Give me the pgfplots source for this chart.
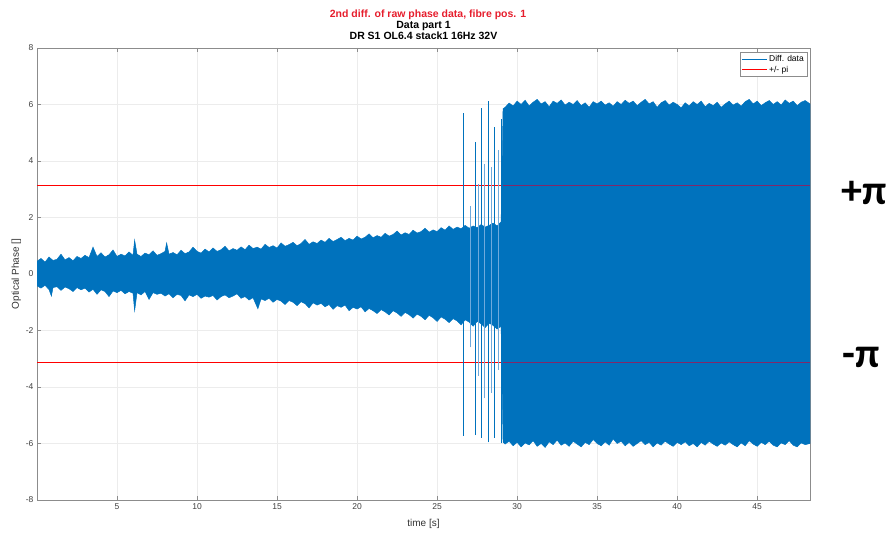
\documentclass[border=0pt]{standalone}
\usepackage{pgfplots}
\usepackage{pgfplotstable}
\pgfplotsset{compat=1.18}
\usepackage{fontspec}
\setmainfont{Liberation Sans}
\newfontfamily\annfont{Carlito}

\definecolor{mblue}{RGB}{0,114,189}
\definecolor{mred}{RGB}{230,30,45}
\definecolor{pired}{RGB}{255,0,0}
\definecolor{pidark}{RGB}{130,40,105}
\definecolor{axgray}{RGB}{140,140,140}
\definecolor{weakblue}{RGB}{110,170,220}

% upper envelope of the differentiated phase signal
\pgfplotstableread{
x y
0 0.45
0.25 0.55
0.5 0.42
0.75 0.60
1.0 0.48
1.25 0.52
1.5 0.70
1.75 0.50
2.0 0.58
2.25 0.47
2.5 0.62
2.75 0.55
3.0 0.66
3.25 0.58
3.5 0.95
3.75 0.62
4.0 0.75
4.25 0.60
4.5 0.68
4.75 0.85
5.0 0.62
5.25 0.70
5.5 0.64
5.75 0.78
6.0 0.66
6.1 1.20
6.25 0.70
6.5 0.62
6.75 0.74
7.0 0.68
7.25 0.82
7.5 0.66
7.75 0.72
8.0 0.80
8.1 1.10
8.25 0.70
8.5 0.76
8.75 0.68
9.0 0.84
9.25 0.72
9.5 0.78
9.75 0.95
10.0 0.80
10.25 0.74
10.5 0.88
10.75 0.78
11.0 0.92
11.25 0.80
11.5 0.86
11.75 0.98
12.0 0.82
12.25 0.90
12.5 0.84
12.75 0.96
13.0 0.86
13.25 1.02
13.5 0.90
13.75 0.95
14.0 0.88
14.25 1.05
14.5 0.94
14.75 1.00
15.0 0.92
15.25 1.10
15.5 0.98
15.75 1.04
16.0 1.12
16.25 1.00
16.5 1.08
16.75 1.22
17.0 1.05
17.25 1.14
17.5 1.08
17.75 1.20
18.0 1.12
18.25 1.26
18.5 1.15
18.75 1.22
19.0 1.30
19.25 1.18
19.5 1.26
19.75 1.20
20.0 1.34
20.25 1.24
20.5 1.30
20.75 1.42
21.0 1.28
21.25 1.36
21.5 1.30
21.75 1.44
22.0 1.34
22.25 1.40
22.5 1.52
22.75 1.38
23.0 1.46
23.25 1.40
23.5 1.55
23.75 1.45
24.0 1.50
24.25 1.62
24.5 1.48
24.75 1.56
25.0 1.50
25.25 1.64
25.5 1.55
25.75 1.70
26.0 1.58
26.25 1.66
26.5 1.60
26.75 1.72
27.0 1.62
27.25 1.70
27.5 1.64
27.75 1.75
28.0 1.66
28.25 1.72
28.5 1.80
28.75 1.70
29.0 1.85
29.12 5.85
29.25 5.90
29.5 6.05
29.75 5.95
30.0 6.12
30.25 6.00
30.5 6.15
30.75 5.95
31.0 6.08
31.25 6.18
31.5 6.02
31.75 6.10
32.0 5.92
32.25 6.12
32.5 6.04
32.75 6.16
33.0 5.98
33.25 6.08
33.5 6.00
33.75 6.14
34.0 5.96
34.25 6.06
34.5 5.90
34.75 6.10
35.0 6.02
35.25 6.12
35.5 5.98
35.75 6.06
36.0 5.94
36.25 6.10
36.5 6.00
36.75 6.15
37.0 6.04
37.25 6.12
37.5 5.96
37.75 6.08
38.0 6.18
38.25 6.02
38.5 6.10
38.75 5.90
39.0 6.06
39.25 6.14
39.5 5.98
39.75 6.08
40.0 6.00
40.25 5.88
40.5 6.06
40.75 5.95
41.0 6.10
41.25 6.00
41.5 6.12
41.75 5.92
42.0 6.04
42.25 5.96
42.5 6.08
42.75 5.90
43.0 6.02
43.25 6.12
43.5 5.98
43.75 6.06
44.0 5.94
44.25 6.10
44.5 6.18
44.75 6.02
45.0 6.12
45.25 5.96
45.5 6.06
45.75 6.14
46.0 6.00
46.25 6.10
46.5 5.98
46.75 6.16
47.0 6.04
47.25 6.12
47.5 5.96
47.75 6.08
48.0 6.14
48.3 6.02
}\envband

% lower envelope of the differentiated phase signal
\pgfplotstableread{
x y
0 -0.42
0.25 -0.50
0.5 -0.40
0.75 -0.55
0.9 -0.78
1.0 -0.48
1.25 -0.45
1.5 -0.58
1.75 -0.46
2.0 -0.52
2.25 -0.62
2.5 -0.48
2.75 -0.56
3.0 -0.50
3.25 -0.64
3.5 -0.54
3.75 -0.72
4.0 -0.56
4.25 -0.62
4.5 -0.80
4.75 -0.60
5.0 -0.66
5.25 -0.58
5.5 -0.70
5.75 -0.62
6.0 -0.68
6.1 -1.30
6.25 -0.66
6.5 -0.74
6.75 -0.62
7.0 -0.90
7.25 -0.66
7.5 -0.72
7.75 -0.68
8.0 -0.78
8.25 -0.70
8.5 -0.84
8.75 -0.72
9.0 -0.76
9.25 -0.95
9.5 -0.74
9.75 -0.80
10.0 -0.72
10.25 -0.86
10.5 -0.78
10.75 -0.82
11.0 -0.76
11.25 -0.92
11.5 -0.80
11.75 -0.74
12.0 -0.84
12.25 -0.78
12.5 -0.70
12.75 -0.86
13.0 -0.80
13.25 -0.92
13.5 -0.84
13.8 -1.23
14.0 -0.88
14.25 -0.94
14.5 -0.86
14.75 -1.00
15.0 -0.90
15.25 -0.96
15.5 -1.08
15.75 -0.94
16.0 -1.00
16.25 -1.12
16.5 -0.98
16.75 -1.05
17.0 -1.20
17.25 -1.02
17.5 -1.10
17.75 -1.04
18.0 -1.16
18.25 -1.08
18.5 -1.25
18.75 -1.12
19.0 -1.18
19.25 -1.10
19.5 -1.30
19.75 -1.18
20.0 -1.24
20.25 -1.16
20.5 -1.34
20.75 -1.22
21.0 -1.30
21.25 -1.40
21.5 -1.26
21.75 -1.34
22.0 -1.45
22.25 -1.30
22.5 -1.38
22.75 -1.50
23.0 -1.36
23.25 -1.44
23.5 -1.56
23.75 -1.42
24.0 -1.50
24.25 -1.62
24.5 -1.46
24.75 -1.55
25.0 -1.68
25.25 -1.52
25.5 -1.60
25.75 -1.72
26.0 -1.58
26.25 -1.66
26.5 -1.80
26.75 -1.62
27.0 -1.70
27.25 -1.85
27.5 -1.68
27.75 -1.76
28.0 -1.90
28.25 -1.74
28.5 -1.82
28.75 -1.95
29.0 -1.85
29.12 -5.95
29.25 -6.02
29.5 -5.92
29.75 -6.08
30.0 -5.96
30.25 -6.12
30.5 -5.98
30.75 -6.05
31.0 -5.90
31.25 -6.10
31.5 -6.00
31.75 -6.14
32.0 -5.94
32.25 -6.04
32.5 -5.88
32.75 -6.06
33.0 -5.98
33.25 -6.10
33.5 -5.92
33.75 -6.02
34.0 -6.12
34.25 -5.96
34.5 -6.04
34.75 -5.86
35.0 -6.00
35.25 -6.08
35.5 -5.94
35.75 -6.06
36.0 -5.84
36.25 -6.00
36.5 -5.92
36.75 -6.08
37.0 -5.96
37.25 -6.10
37.5 -6.00
37.75 -5.90
38.0 -6.04
38.25 -5.96
38.5 -6.12
38.75 -5.98
39.0 -6.06
39.25 -5.92
39.5 -6.02
39.75 -6.10
40.0 -5.96
40.25 -6.04
40.5 -5.94
40.75 -6.08
41.0 -6.00
41.25 -6.12
41.5 -5.96
41.75 -6.06
42.0 -5.92
42.25 -6.02
42.5 -6.10
42.75 -5.98
43.0 -6.06
43.25 -5.94
43.5 -6.04
43.75 -6.12
44.0 -5.98
44.25 -6.08
44.5 -5.90
44.75 -6.02
45.0 -6.10
45.25 -5.96
45.5 -6.04
45.75 -5.92
46.0 -6.06
46.25 -6.12
46.5 -5.98
46.75 -6.04
47.0 -5.90
47.25 -6.06
47.5 -6.12
47.75 -5.98
48.0 -6.04
48.3 -6.00
}\envlo

% walk the lower envelope backwards and append it, giving one closed band
\pgfplotstablesort[sort key=x, sort cmp=float >]{\envlorev}{\envlo}
\pgfplotstablevertcat{\envband}{\envlorev}

% isolated phase jumps before the signal breaks up
\pgfplotstableread{
x y
26.65 -5.72
26.65 5.70
26.65 nan
27.40 -5.70
27.40 4.67
27.40 nan
27.75 -5.80
27.75 5.86
27.75 nan
28.20 -5.96
28.20 6.14
28.20 nan
28.60 -5.80
28.60 5.20
28.60 nan
29.00 -6.00
29.00 5.50
}\jumpdata

% weaker excursions in the same interval
\pgfplotstableread{
x y
27.05 -2.6
27.05 2.4
27.05 nan
27.60 -3.6
27.60 3.2
27.60 nan
27.95 -4.4
27.95 3.9
27.95 nan
28.40 -4.2
28.40 3.8
28.40 nan
28.85 -3.4
28.85 4.4
}\weakdata

\begin{document}
\begin{tikzpicture}
\begin{axis}[
  at={(37pt,30pt)}, anchor=south west,
  scale only axis, width=773pt, height=452pt,
  xmin=0, xmax=48.3, ymin=-8, ymax=8,
  xtick={5,10,...,45}, ytick={-8,-6,...,8},
  grid=major, major grid style={gray!15, line width=0.4pt},
  axis line style={axgray}, tick style={axgray},
  tick align=inside, major tick length=4pt,
  tick label style={font=\fontsize{8.5}{9}\selectfont, text=black!75},
  /pgf/number format/assume math mode=true,
  xlabel={time [s]}, ylabel={Optical Phase []},
  label style={font=\fontsize{10}{11}\selectfont, text=black!80},
  xlabel style={yshift=-3pt},
  ylabel style={yshift=-2pt},
  title={Data part 1\\DR S1 OL6.4 stack1 16Hz 32V},
  title style={align=center, font=\bfseries\fontsize{10.5}{10.5}\selectfont, at={(0.5,1)}, anchor=south, yshift=-1pt},
  legend style={at={(1,1)}, anchor=north east, xshift=-3pt, yshift=-4pt,
    font=\fontsize{8.5}{9}\selectfont, draw=axgray, inner sep=1pt, row sep=-1pt,
    cells={anchor=west}},
  legend image code/.code={\draw[#1] (0pt,0pt) -- (25pt,0pt);},
]
\addlegendimage{mblue, line width=0.6pt}
\addlegendentry{Diff. data}
\addlegendimage{red, line width=0.6pt}
\addlegendentry{+/- pi}

% red +/- pi reference lines
\addplot[pired, line width=1pt, forget plot] coordinates {(0,3.14159) (48.3,3.14159)};
\addplot[pired, line width=1pt, forget plot] coordinates {(0,-3.14159) (48.3,-3.14159)};

% the signal band between its envelopes
\addplot[fill=mblue, draw=mblue, line width=0.5pt, forget plot] table {\envband} -- cycle;

% weaker excursions and the isolated jumps
\addplot[weakblue, line width=0.5pt, unbounded coords=jump, forget plot] table {\weakdata};
\addplot[mblue, line width=0.8pt, unbounded coords=jump, forget plot] table {\jumpdata};

% the reference lines where they run through the dense part of the signal
\addplot[pidark, line width=1pt, forget plot] coordinates {(29.12,3.14159) (48.3,3.14159)};
\addplot[pidark, line width=1pt, forget plot] coordinates {(29.12,-3.14159) (48.3,-3.14159)};
\end{axis}
\node[text=mred, font=\bfseries\fontsize{10.5}{10.5}\selectfont, anchor=center] at (428pt,515pt) {2nd diff. of raw phase data, fibre pos. 1};
\node[font=\annfont\bfseries\fontsize{42}{42}\selectfont, anchor=center] at (864pt,337pt) {+π};
\node[font=\annfont\bfseries\fontsize{42}{42}\selectfont, anchor=center] at (861pt,173pt) {-π};
\path (0,0) rectangle (895pt,530pt);
\end{tikzpicture}
\end{document}
